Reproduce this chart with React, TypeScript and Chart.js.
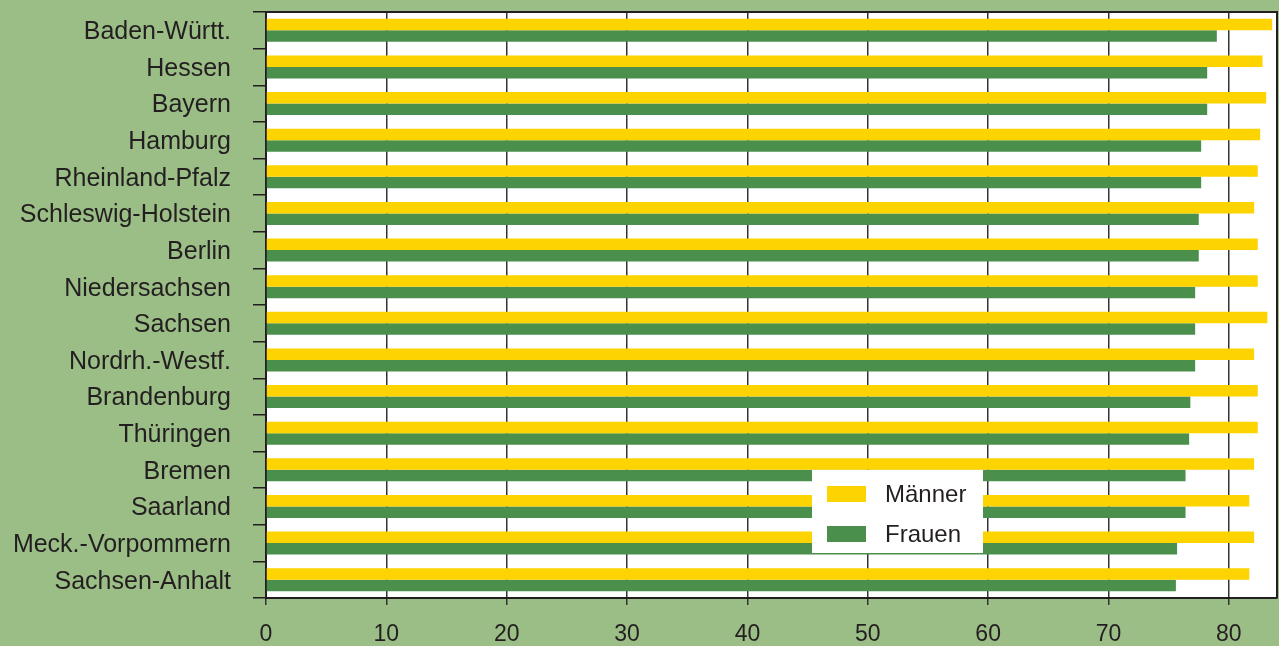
import React, { useEffect, useRef } from "react";
import { Chart, registerables } from "chart.js";
Chart.register(...registerables);

const categories = [
  "Baden-Württ.",
  "Hessen",
  "Bayern",
  "Hamburg",
  "Rheinland-Pfalz",
  "Schleswig-Holstein",
  "Berlin",
  "Niedersachsen",
  "Sachsen",
  "Nordrh.-Westf.",
  "Brandenburg",
  "Thüringen",
  "Bremen",
  "Saarland",
  "Meck.-Vorpommern",
  "Sachsen-Anhalt",
];
const maenner = [83.6, 82.8, 83.1, 82.6, 82.4, 82.1, 82.4, 82.4, 83.2, 82.1, 82.4, 82.4, 82.1, 81.7, 82.1, 81.7];
const frauen = [79.0, 78.2, 78.2, 77.7, 77.7, 77.5, 77.5, 77.2, 77.2, 77.2, 76.8, 76.7, 76.4, 76.4, 75.7, 75.6];
const seriesNames = ["Männer", "Frauen"];
const xTickValues = [0, 10, 20, 30, 40, 50, 60, 70, 80];
const xMax = 84;

const YELLOW = "#FDD300";
const GREEN = "#4A8F4C";
const BG = "#9BBD86";
const INK = "#231F20";
const FONT = '"Liberation Sans", Arial, Helvetica, sans-serif';

const framePlugin = {
  id: "frame",
  beforeDraw(chart: any) {
    const { ctx, chartArea: a } = chart;
    ctx.save();
    ctx.fillStyle = "#ffffff";
    ctx.fillRect(a.left, a.top, a.right - a.left, a.bottom - a.top);
    ctx.restore();
  },
  afterDraw(chart: any) {
    const { ctx, chartArea: a } = chart;
    ctx.save();
    ctx.strokeStyle = INK;
    ctx.lineWidth = 2;
    ctx.beginPath();
    ctx.moveTo(a.left, a.top);
    ctx.lineTo(a.right, a.top);
    ctx.lineTo(a.right, a.bottom);
    ctx.stroke();

    // legend box inside plot
    const bx = a.left + 546;
    const by = a.top + 458;
    const bw = 171;
    const bh = 83;
    ctx.fillStyle = "#ffffff";
    ctx.fillRect(bx, by, bw, bh);
    const cols = [YELLOW, GREEN];
    ctx.font = `24px ${FONT}`;
    ctx.textBaseline = "middle";
    ctx.textAlign = "left";
    seriesNames.forEach((name, i) => {
      const cy = by + 24 + i * 40;
      ctx.fillStyle = cols[i];
      ctx.fillRect(bx + 15, cy - 8, 39, 16);
      ctx.fillStyle = INK;
      ctx.fillText(name, bx + 73, cy + 1);
    });
    ctx.restore();
  },
};

export default function App() {
  const ref = useRef<HTMLCanvasElement | null>(null);
  useEffect(() => {
    if (!ref.current) return;
    const chart = new Chart(ref.current, {
      type: "bar",
      data: {
        labels: categories,
        datasets: [
          { label: seriesNames[0], data: maenner, backgroundColor: YELLOW, categoryPercentage: 0.63, barPercentage: 1 },
          { label: seriesNames[1], data: frauen, backgroundColor: GREEN, categoryPercentage: 0.63, barPercentage: 1 },
        ],
      },
      options: {
        indexAxis: "y",
        responsive: false,
        animation: false,
        devicePixelRatio: 1,
        layout: { padding: { top: 12, right: 2, left: 0, bottom: 0 } },
        plugins: { legend: { display: false }, tooltip: { enabled: false } },
        scales: {
          x: {
            type: "linear",
            min: 0,
            max: xMax,
            afterBuildTicks(scale: any) {
              scale.ticks = xTickValues.map((v) => ({ value: v }));
            },
            afterFit(scale: any) {
              scale.height = 48;
              scale.paddingLeft = 0;
              scale.paddingRight = 0;
            },
            ticks: {
              color: INK,
              font: { family: FONT, size: 23 },
              padding: 16,
              maxRotation: 0,
            },
            grid: { color: "#333333", lineWidth: 1.5, tickLength: 7, drawOnChartArea: true },
            border: { color: INK, width: 2 },
          },
          y: {
            type: "category",
            afterFit(scale: any) {
              scale.width = 266;
              scale.paddingTop = 0;
              scale.paddingBottom = 0;
            },
            ticks: {
              color: INK,
              font: { family: FONT, size: 25 },
              padding: 22,
              labelOffset: 2,
            },
            grid: { color: INK, lineWidth: 1.5, tickLength: 13, drawOnChartArea: false, offset: true },
            border: { color: INK, width: 2 },
          },
        },
      },
      plugins: [framePlugin],
    });
    return () => chart.destroy();
  }, []);
  return (
    <div style={{ position: "absolute", left: 0, top: 0, width: 1279, height: 646, background: BG }}>
      <canvas ref={ref} width={1279} height={646} style={{ display: "block" }} />
    </div>
  );
}
